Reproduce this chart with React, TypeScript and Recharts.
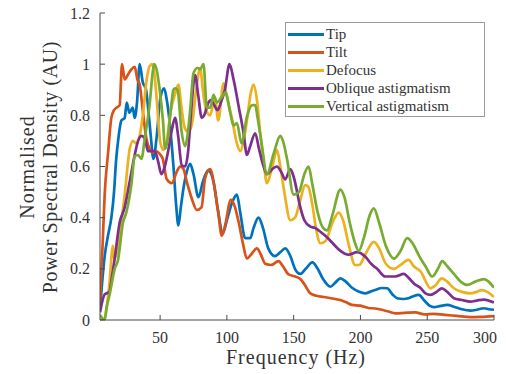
import { Label, Line, LineChart, XAxis, YAxis } from "recharts";

const FONT = "'Liberation Serif', 'Times New Roman', serif";
const AXIS = "#4a4a4a";
const TEXT = "#333333";

const freqTicks = [50, 100, 150, 200, 250, 300];
const psdTicks = [0, 0.2, 0.4, 0.6, 0.8, 1, 1.2];

// [frequency (Hz), normalised PSD]
const tip: [number, number][] = [
  [5, 0.04], [6.5, 0.14], [8.5, 0.25], [11, 0.33], [13.5, 0.4], [15.5, 0.5], [17, 0.62], [19, 0.72],
  [21, 0.78], [23.5, 0.79], [25, 0.85], [27, 0.81], [29.5, 0.83], [31, 0.79], [32.7, 0.85], [34.7, 1.0],
  [37, 0.93], [39.5, 0.9], [41, 0.83], [43, 0.72], [45, 0.63], [47.5, 0.72], [50, 0.86], [53, 0.905],
  [55, 0.86], [57, 0.78], [60, 0.6], [62, 0.45], [63.7, 0.37], [65.5, 0.44], [67.5, 0.515], [70, 0.58],
  [72.5, 0.61], [75, 0.57], [78.7, 0.48], [82, 0.54], [86, 0.585], [90, 0.54], [93, 0.44], [97, 0.34],
  [100, 0.39], [104, 0.46], [107.5, 0.49], [110, 0.42], [113.7, 0.32], [117.5, 0.32], [120, 0.36],
  [123.7, 0.4], [127, 0.36], [131, 0.28], [136, 0.25], [140, 0.265], [143.7, 0.28], [147.5, 0.25],
  [151, 0.2], [155, 0.18], [159, 0.2], [164, 0.225], [168, 0.2], [172, 0.16], [177.5, 0.13], [181, 0.145],
  [185, 0.163], [189, 0.15], [194, 0.125], [199, 0.11], [203.7, 0.104], [207, 0.11], [211, 0.117],
  [216, 0.125], [220, 0.124], [224, 0.1], [227.5, 0.085], [232, 0.082], [236, 0.085], [240, 0.094],
  [243.7, 0.098], [248, 0.075], [252, 0.055], [255, 0.05], [260, 0.055], [265, 0.059], [270, 0.052],
  [276, 0.042], [282.5, 0.037], [287, 0.04], [292.5, 0.046], [296, 0.042], [300, 0.04],
];

const tilt: [number, number][] = [
  [5, 0.07], [7, 0.3], [8.5, 0.49], [11, 0.65], [13.5, 0.79], [15.5, 0.82], [17.3, 0.83], [19.7, 0.84],
  [21.5, 1.0], [23.5, 0.94], [26, 0.96], [28.5, 0.98], [31, 0.99], [33, 0.94], [34.7, 0.92], [37.2, 0.81],
  [39.7, 0.71], [42, 0.67], [44.7, 0.655], [47, 0.66], [49.5, 0.65], [52, 0.63], [55, 0.55], [58.7, 0.535],
  [62.5, 0.58], [65, 0.6], [67.5, 0.59], [70, 0.54], [73.7, 0.475], [77.5, 0.43], [81, 0.44], [83.7, 0.555],
  [87.5, 0.59], [91, 0.51], [93.5, 0.42], [96.2, 0.33], [98.7, 0.37], [103, 0.47], [105.5, 0.45],
  [108.7, 0.385], [112, 0.3], [115, 0.24], [118, 0.255], [122.5, 0.28], [125.5, 0.255], [128.7, 0.22],
  [133, 0.215], [138.7, 0.23], [142, 0.21], [146.2, 0.178], [151, 0.17], [155, 0.16], [158, 0.14],
  [162.5, 0.104], [167, 0.095], [172.5, 0.09], [178, 0.085], [185, 0.078], [189, 0.07], [193.7, 0.059],
  [200, 0.056], [206, 0.047], [211, 0.045], [216, 0.04], [221, 0.033], [226, 0.026], [233, 0.028],
  [241, 0.03], [248, 0.022], [255, 0.024], [263, 0.02], [272, 0.016], [282.5, 0.011], [290, 0.012], [300, 0.015],
];

const defocus: [number, number][] = [
  [5, 0.0], [8, 0.0], [10, 0.05], [12, 0.14], [14.7, 0.29], [15.5, 0.24], [17, 0.25], [19.7, 0.33],
  [23.5, 0.49], [27.3, 0.67], [29.7, 0.7], [32, 0.69], [34.7, 0.72], [37.3, 0.81], [39.7, 0.93], [42, 0.99],
  [44, 1.0], [46, 0.95], [47.5, 0.86], [50, 0.7], [52.5, 0.665], [55, 0.7], [58, 0.82], [61, 0.88],
  [63.7, 0.92], [66, 0.83], [68.5, 0.75], [71.2, 0.735], [74, 0.77], [77, 0.9], [80, 0.985], [82, 0.9],
  [84.5, 0.82], [87.5, 0.8], [91, 0.87], [93.5, 0.78], [97.5, 0.925], [100, 0.87], [103.7, 0.79],
  [107.5, 0.69], [110, 0.66], [112.5, 0.7], [115, 0.78], [118, 0.89], [120, 0.92], [122.5, 0.86],
  [125, 0.73], [127.5, 0.62], [130, 0.535], [134, 0.6], [137.5, 0.665], [140, 0.6], [143, 0.5],
  [147.5, 0.39], [151, 0.4], [155, 0.47], [158.7, 0.527], [161, 0.52], [164, 0.45], [167, 0.35],
  [170, 0.3], [174, 0.31], [179, 0.38], [183.7, 0.42], [187, 0.39], [191, 0.3], [196, 0.215],
  [199, 0.215], [204, 0.26], [210, 0.305], [214, 0.28], [219, 0.22], [225, 0.2], [230, 0.215],
  [236, 0.235], [240, 0.21], [245, 0.19], [252.5, 0.124], [256, 0.135], [261, 0.163], [265, 0.15],
  [270, 0.124], [276, 0.11], [282.5, 0.104], [287, 0.11], [291, 0.117], [295, 0.11], [300, 0.09],
];

const oblique: [number, number][] = [
  [5, 0.03], [8.5, 0.1], [12, 0.11], [14, 0.17], [16, 0.24], [19.7, 0.38], [23.5, 0.44], [27.2, 0.54],
  [31, 0.645], [33.5, 0.7], [36, 0.72], [38.5, 0.71], [41, 0.66], [43.5, 0.66], [46, 0.66], [48.5, 0.62],
  [51, 0.57], [53.5, 0.6], [56, 0.66], [58.7, 0.74], [61.2, 0.79], [63.5, 0.72], [66.2, 0.605],
  [68.7, 0.6], [71, 0.66], [73, 0.8], [76.2, 0.957], [78.5, 0.88], [81.2, 0.79], [83, 0.8], [86.2, 0.85],
  [88, 0.86], [90.5, 0.84], [93, 0.82], [95.5, 0.85], [98.5, 0.9], [102, 1.0], [105, 0.94], [109, 0.83],
  [112.5, 0.73], [115, 0.645], [117.5, 0.68], [121.2, 0.73], [124, 0.67], [127.5, 0.6], [130, 0.57],
  [134, 0.59], [137.5, 0.6], [141, 0.575], [143.7, 0.55], [147.5, 0.59], [150, 0.56], [155, 0.44],
  [158, 0.39], [162.5, 0.365], [166, 0.36], [170, 0.345], [173.5, 0.33], [177.5, 0.31], [181, 0.29],
  [185, 0.27], [191, 0.255], [197.5, 0.265], [203.7, 0.247], [208, 0.22], [212.5, 0.2], [218.7, 0.17],
  [226, 0.17], [232.5, 0.18], [236, 0.165], [240, 0.143], [245, 0.125], [248.7, 0.104], [252.5, 0.098],
  [257, 0.11], [261, 0.124], [265, 0.11], [270, 0.085], [276, 0.078], [282.5, 0.072], [287, 0.076],
  [292.5, 0.08], [300, 0.068],
];

const vertical: [number, number][] = [
  [5, 0.02], [8.5, 0.0], [10, 0.05], [12.2, 0.1], [16, 0.2], [18.5, 0.235], [22.2, 0.38], [24.7, 0.42],
  [28.5, 0.53], [31, 0.64], [33.5, 0.645], [36, 0.63], [38.5, 0.71], [42.3, 0.85], [44.5, 0.97],
  [45.5, 1.0], [47.3, 0.98], [49.7, 0.9], [52.2, 0.775], [53.7, 0.67], [55.5, 0.7], [58, 0.82], [60, 0.9],
  [61.2, 0.905], [63, 0.9], [66, 0.74], [68.7, 0.68], [70.5, 0.72], [72.5, 0.82], [75, 0.965],
  [78, 0.985], [80, 0.98], [82.5, 1.0], [85, 0.83], [87.5, 0.83], [90, 0.88], [92.5, 0.85], [96, 0.87],
  [99, 0.89], [102.5, 0.81], [105, 0.76], [107.5, 0.77], [111, 0.69], [115, 0.795], [119, 0.84],
  [121.2, 0.84], [123, 0.79], [126, 0.69], [130, 0.57], [135, 0.65], [140, 0.72], [142, 0.7], [145, 0.63],
  [150, 0.49], [154, 0.5], [158, 0.57], [161.2, 0.6], [164, 0.53], [168, 0.42], [172, 0.36], [175, 0.35],
  [179, 0.41], [185, 0.51], [188, 0.48], [192, 0.38], [196, 0.3], [198.7, 0.27], [203, 0.33], [207, 0.41],
  [210, 0.436], [214, 0.38], [219, 0.29], [225, 0.24], [230, 0.27], [235, 0.32], [239, 0.3], [244, 0.25],
  [248.7, 0.21], [253.7, 0.17], [258, 0.2], [261.2, 0.23], [265, 0.21], [270, 0.18], [275, 0.15],
  [280, 0.137], [286, 0.15], [292.5, 0.16], [296, 0.15], [300, 0.126],
];

const series = [
  { name: "Tip", points: tip, color: "#0072BD" },
  { name: "Tilt", points: tilt, color: "#D95319" },
  { name: "Defocus", points: defocus, color: "#EDB120" },
  { name: "Oblique astigmatism", points: oblique, color: "#7E2F8E" },
  { name: "Vertical astigmatism", points: vertical, color: "#77AC30" },
];

const toRows = (points: [number, number][]) => points.map(([f, v]) => ({ f, v }));

function FreqTick({ x, y, payload }: any) {
  // keep the last label inside the visible page
  const cx = Math.min(x, 485);
  return (
    <text x={cx} y={y} dy="0.71em" textAnchor="middle" fill={TEXT} fontFamily={FONT} fontSize={16}>
      {payload.value}
    </text>
  );
}

function PsdTick({ x, y, payload }: any) {
  return (
    <text x={x} y={y} dy="0.35em" textAnchor="end" fill={TEXT} fontFamily={FONT} fontSize={16}>
      {String(Math.round(payload.value * 10) / 10)}
    </text>
  );
}

// legend drawn as an overlay so recharts doesn't shrink the plot for it
function LegendBox() {
  return (
    <div
      style={{
        position: "absolute",
        left: 285,
        top: 22,
        width: 198,
        height: 91,
        border: "1px solid #9a9a9a",
        background: "#fff",
        paddingTop: 2,
        fontFamily: FONT,
        fontSize: 15,
        color: TEXT,
      }}
    >
      {series.map((s) => (
        <div key={s.name} style={{ display: "flex", alignItems: "center", height: 18 }}>
          <span style={{ width: 36, height: 3, background: s.color, marginLeft: 2, marginRight: 2 }} />
          <span style={{ lineHeight: "18px", whiteSpace: "nowrap" }}>{s.name}</span>
        </div>
      ))}
    </div>
  );
}

export default function App() {
  // pulled up/left by the body margin so chart coords match the page
  return (
    <div style={{ position: "relative", width: 506, height: 374, margin: "-8px 0 0 -8px" }}>
      <LineChart width={506} height={374} margin={{ top: 13, right: 12, bottom: 0, left: 0 }}>
        <XAxis
          dataKey="f"
          type="number"
          domain={[5, 300]}
          ticks={freqTicks}
          interval={0}
          allowDataOverflow
          height={54}
          tickSize={-5}
          tickMargin={17}
          stroke={AXIS}
          tick={<FreqTick />}
        >
          <Label
            content={() => (
              <text
                x={296}
                y={357}
                textAnchor="middle"
                dominantBaseline="central"
                fill={TEXT}
                fontFamily={FONT}
                fontSize={20}
                letterSpacing={1}
              >
                Frequency (Hz)
              </text>
            )}
          />
        </XAxis>
        <YAxis
          type="number"
          domain={[0, 1.2]}
          ticks={psdTicks}
          interval={0}
          allowDataOverflow
          width={100}
          tickSize={-5}
          tickMargin={15}
          stroke={AXIS}
          tick={<PsdTick />}
        >
          <Label
            content={() => (
              <g fontFamily={FONT} fontSize={20} fill={TEXT}>
                <text
                  transform="translate(27,167) rotate(-90)"
                  textAnchor="middle"
                  dominantBaseline="central"
                  letterSpacing={1}
                >
                  Normalised
                </text>
                <text
                  transform="translate(50,167) rotate(-90)"
                  textAnchor="middle"
                  dominantBaseline="central"
                  letterSpacing={0.6}
                >
                  Power Spectral Density (AU)
                </text>
              </g>
            )}
          />
        </YAxis>
        {series.map((s) => (
          <Line
            key={s.name}
            data={toRows(s.points)}
            dataKey="v"
            name={s.name}
            type="monotone"
            stroke={s.color}
            strokeWidth={2.7}
            dot={false}
            activeDot={false}
            isAnimationActive={false}
          />
        ))}
      </LineChart>
      <LegendBox />
    </div>
  );
}
